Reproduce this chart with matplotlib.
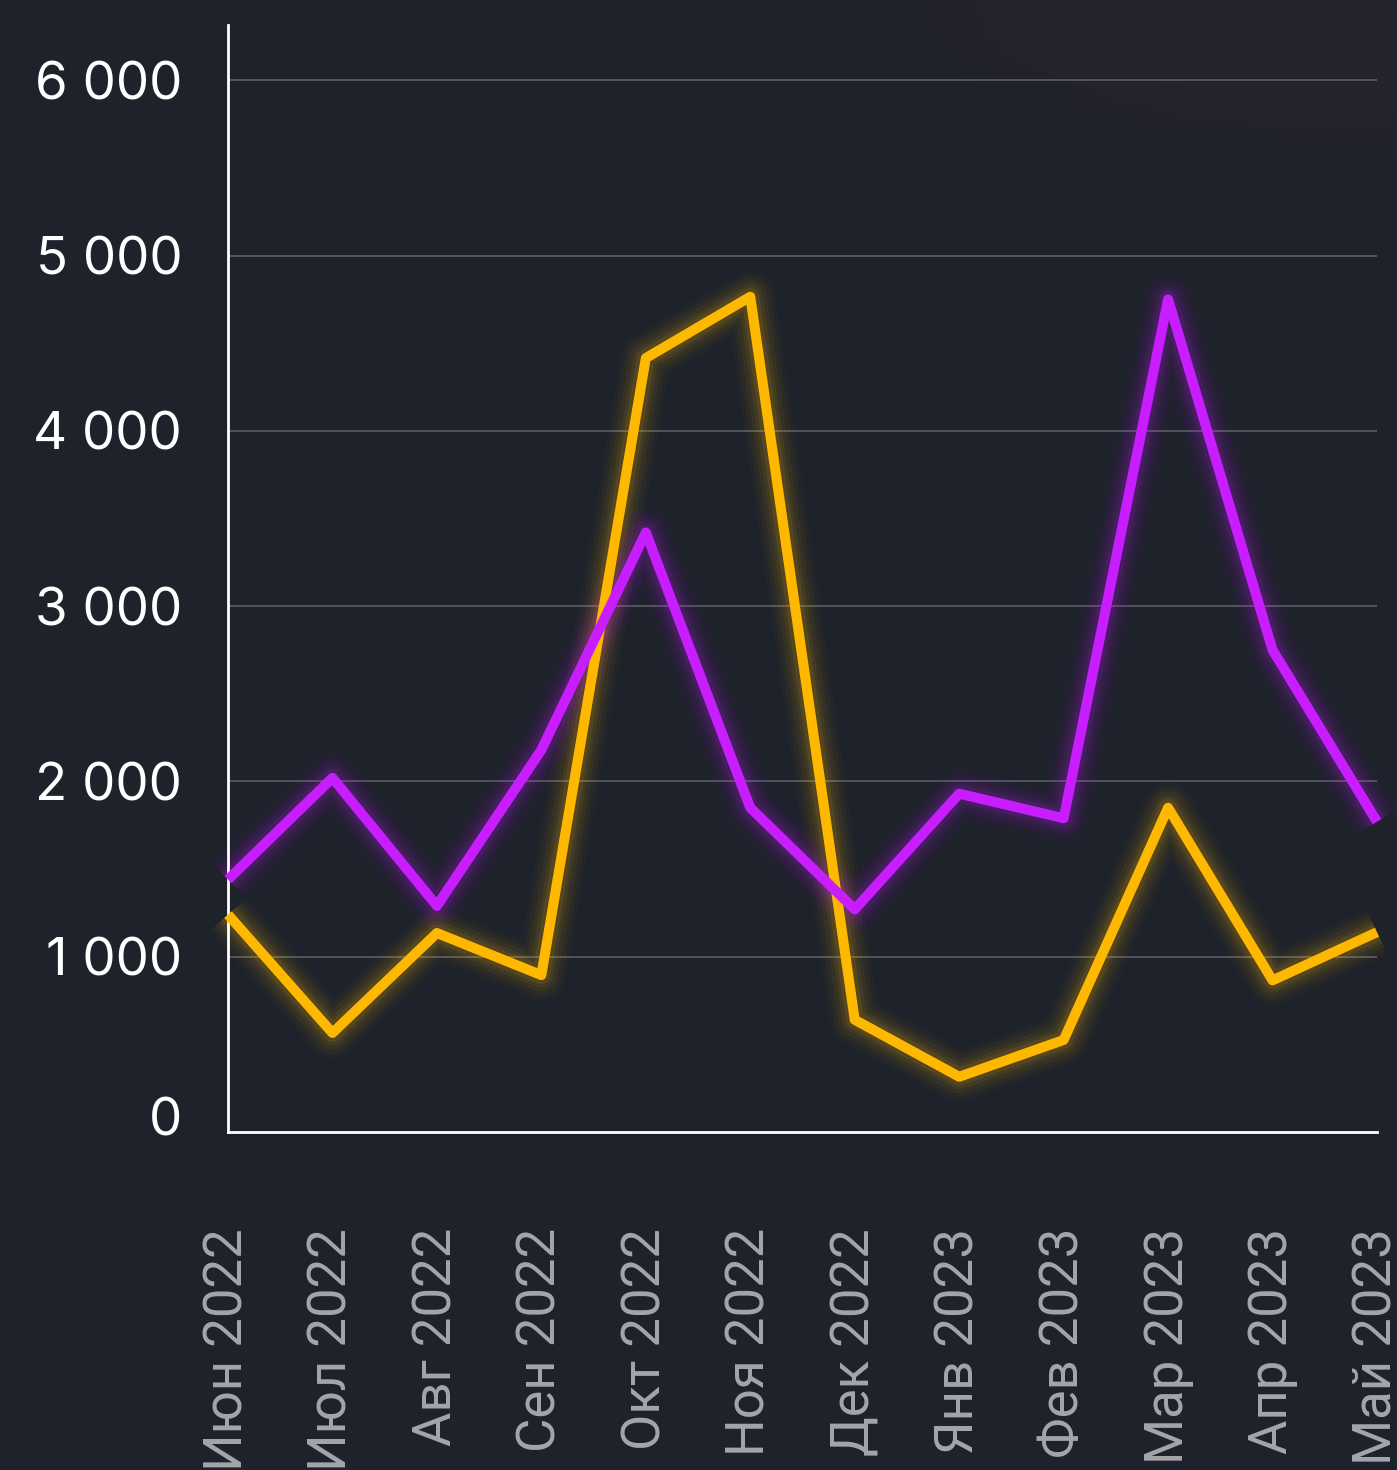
import numpy as np
import matplotlib
matplotlib.use("Agg")
import matplotlib.pyplot as plt
import matplotlib.transforms as mtransforms
from matplotlib.ticker import FuncFormatter

months = ["Июн 2022", "Июл 2022", "Авг 2022", "Сен 2022", "Окт 2022", "Ноя 2022",
          "Дек 2022", "Янв 2023", "Фев 2023", "Мар 2023", "Апр 2023", "Май 2023"]
purple_vals = [1440, 2020, 1290, 2180, 3420, 1850, 1270, 1930, 1790, 4750, 2750, 1770]
yellow_vals = [1240, 565, 1135, 895, 4415, 4765, 640, 315, 525, 1850, 865, 1140]
y_ticks = [0, 1000, 2000, 3000, 4000, 5000, 6000]

BG = "#1e222b"
PURPLE = "#c81eff"
YELLOW = "#ffb800"

plt.rcParams["font.family"] = ["Inter", "DejaVu Sans"]

fig = plt.figure(figsize=(13.97, 14.70), dpi=100)
fig.patch.set_facecolor(BG)

# subtle purple-ish background glow at top-right
bg_ax = fig.add_axes([0, 0, 1, 1], zorder=0)
bg_ax.set_axis_off()
H, W = 300, 285
yy, xx = np.mgrid[0:H, 0:W]
xn = xx / W
yn = yy / H
d = np.sqrt(((xn - 1.0) / 0.42) ** 2 + ((yn - 0.0) / 0.12) ** 2)
t = np.clip((1 - d) * 2.5, 0, 1)
base = np.array([30, 34, 43]) / 255
top = np.array([37, 35, 46]) / 255
img = base[None, None, :] * (1 - t[..., None]) + top[None, None, :] * t[..., None]
bg_ax.imshow(img, extent=[0, 1, 0, 1], aspect="auto", origin="upper")
bg_ax.set_xlim(0, 1)
bg_ax.set_ylim(0, 1)

ax = fig.add_axes([228 / 1397, 1 - 1132 / 1470, (1377 - 228) / 1397, (1132 - 25) / 1470], zorder=1)
ax.patch.set_alpha(0)

x = np.arange(len(months))

for vals, col in ((yellow_vals, YELLOW), (purple_vals, PURPLE)):
    for lw, a in ((36, 0.025), (30, 0.035), (24, 0.05), (18, 0.07), (13, 0.10)):
        ax.plot(x, vals, color=col, lw=lw, alpha=a, solid_joinstyle="round",
                solid_capstyle="butt", zorder=2, clip_on=False)
    ax.plot(x, vals, color=col, lw=7.2, solid_joinstyle="round",
            solid_capstyle="butt", zorder=3, clip_on=False)

ax.set_xlim(0, 11)
ax.set_ylim(0, 6315)
ax.set_yticks(y_ticks)
ax.yaxis.set_major_formatter(FuncFormatter(lambda v, p: f"{int(v):,}".replace(",", " ")))
ax.set_xticks(x)
ax.set_xticklabels(months, rotation=90, family=["Roboto", "DejaVu Sans"])

for v in y_ticks[1:]:
    ax.axhline(v, color="#5a5e66", lw=1.2, zorder=1)

ax.tick_params(axis="y", length=0, pad=33, labelsize=38, labelcolor="white")
ax.tick_params(axis="x", length=0, pad=69, labelsize=38, labelcolor="#a3a6ab")
for lbl in ax.get_xticklabels():
    lbl.set_verticalalignment("top")

# the "0" label sits slightly above the baseline in the reference
zero_tick = ax.yaxis.get_major_ticks()[0]
zero_tick.label1.set_transform(zero_tick.label1.get_transform() +
                               mtransforms.ScaledTranslation(0, 0.15, fig.dpi_scale_trans))

for s in ("top", "right"):
    ax.spines[s].set_visible(False)
ax.spines["left"].set_color("white")
ax.spines["bottom"].set_color("white")
ax.spines["left"].set_linewidth(2)
ax.spines["bottom"].set_linewidth(2)

fig.savefig("out.png", dpi=100, facecolor=BG)
